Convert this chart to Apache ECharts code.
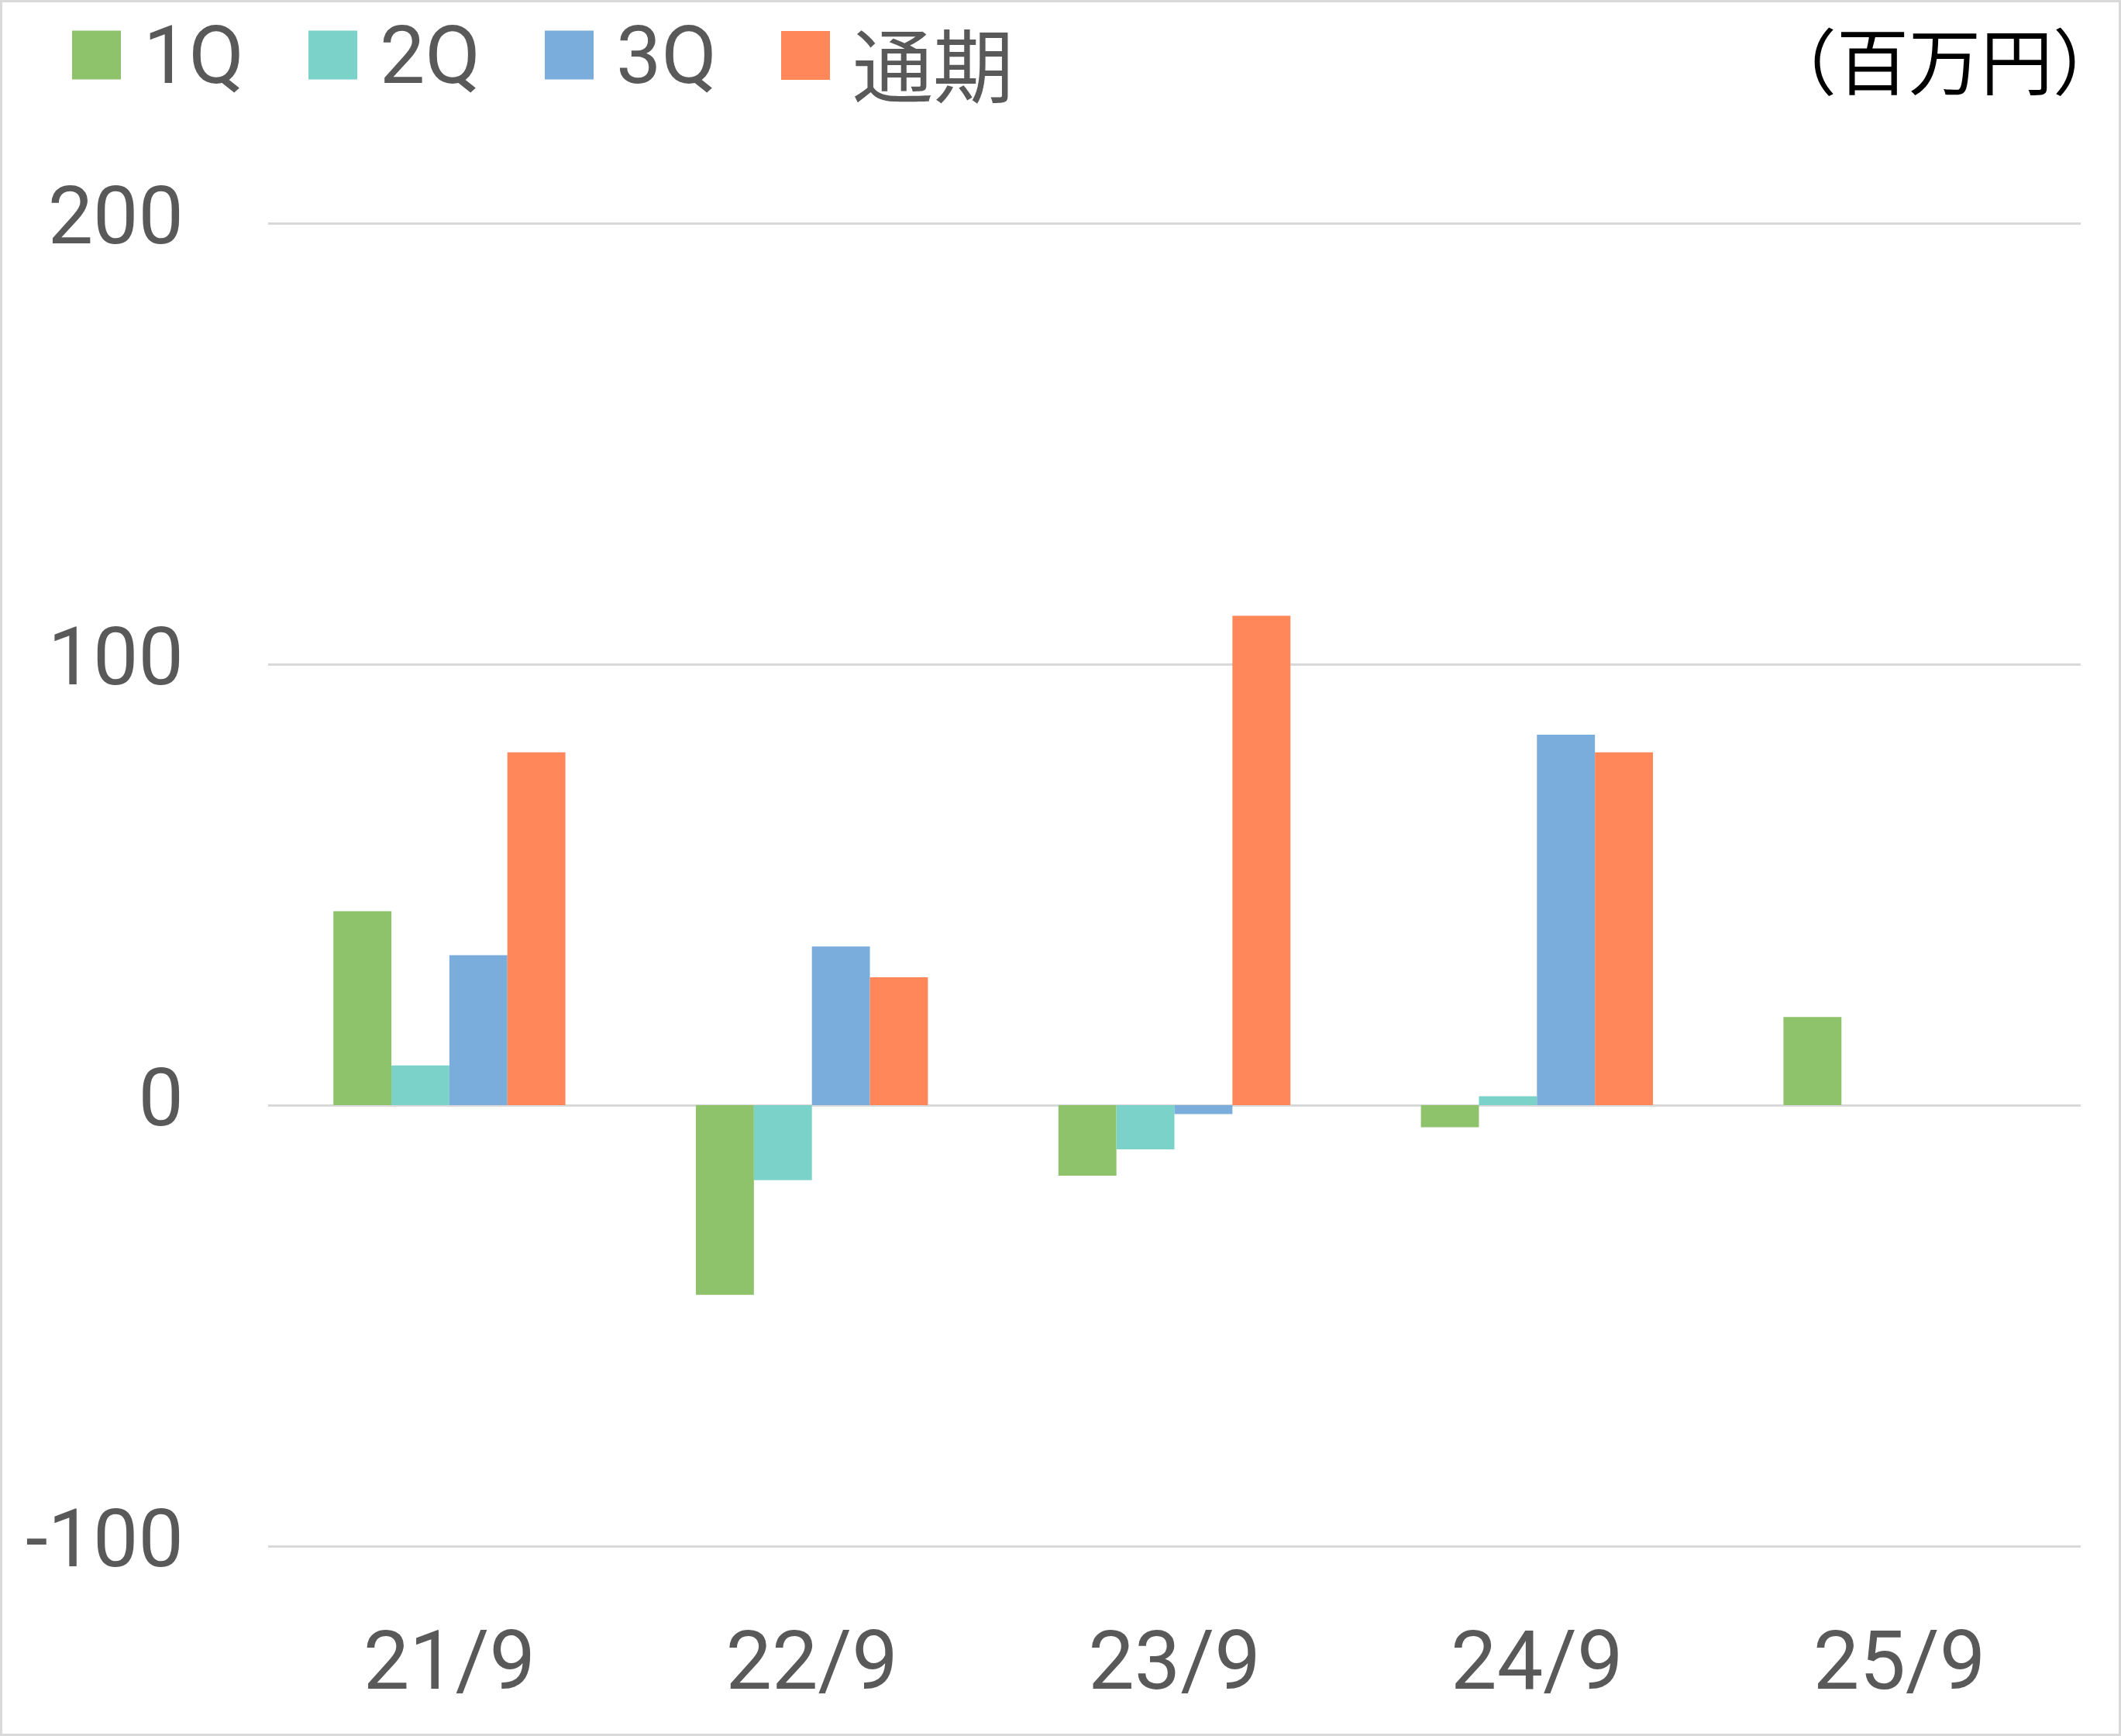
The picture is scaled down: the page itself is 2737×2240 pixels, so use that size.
<!DOCTYPE html>
<html lang="ja">
<head>
    <meta charset="UTF-8">
    <title>四半期別 利益推移</title>
    <script src="https://cdn.jsdelivr.net/npm/echarts@6/dist/echarts.min.js"></script>
    <style>
        html, body { margin: 0; padding: 0; background: #fff; }
        #chart { width: 2737px; height: 2240px; }
    </style>
</head>
<body>
    <div id="chart"></div>
    <script>
        // 決算期
        const periods = ['21/9', '22/9', '23/9', '24/9', '25/9']
        // 各四半期の値（百万円）
        const q1 = [44, -43, -16, -5, 20]
        const q2 = [9, -17, -10, 2, null]
        const q3 = [34, 36, -2, 84, null]
        const fullYear = [80, 29, 111, 80, null]

        const seriesNames = ['1Q', '2Q', '3Q', '通期']
        const seriesColors = ['#8fc36b', '#7bd2c8', '#7aacdc', '#ff8759']
        const unitLabel = '（百万円）'

        const fontLatin = "Roboto, 'Noto Sans CJK JP', sans-serif"
        const textGray = '#595959'

        const myChart = echarts.init(document.getElementById('chart'))

        const seriesData = [q1, q2, q3, fullYear]
        const series = seriesData.map((d, i) => ({
            name: seriesNames[i],
            type: 'bar',
            data: d,
            barGap: '0%',
            barCategoryGap: '36%',
            itemStyle: { color: seriesColors[i] }
        }))

        // 凡例は項目ごとに位置を固定する
        const legendLeft = [88, 393, 698, 1003]
        const legendTop = [24, 24, 24, 35]
        // 行の高さを広げて文字を下に寄せる（通期だけ大きめ）
        const legendLineH = [124, 124, 124, 160]
        const legends = seriesNames.map((name, i) => ({
            left: legendLeft[i],
            top: legendTop[i],
            itemWidth: 63,
            itemHeight: 63,
            icon: 'rect',
            data: [name],
            formatter: n => '{t|' + n + '}',
            textStyle: {
                padding: [0, 0, 0, 24],
                rich: {
                    t: {
                        fontSize: 104,
                        color: textGray,
                        fontFamily: fontLatin,
                        lineHeight: legendLineH[i],
                        verticalAlign: 'bottom'
                    }
                }
            }
        }))

        const option = {
            animation: false,
            backgroundColor: '#fff',
            textStyle: { fontFamily: fontLatin },
            legend: legends,
            grid: {
                left: 346,
                right: 52,
                top: 288,
                bottom: 245,
                containLabel: false
            },
            xAxis: {
                type: 'category',
                data: periods,
                axisLine: { show: false },
                axisTick: { show: false },
                splitLine: { show: false },
                axisLabel: {
                    fontSize: 106,
                    color: textGray,
                    margin: 104
                }
            },
            yAxis: {
                type: 'value',
                min: -100,
                max: 200,
                interval: 100,
                axisLine: { show: false },
                axisTick: { show: false },
                splitLine: { lineStyle: { color: '#d9d9d9', width: 3 } },
                axisLabel: {
                    fontSize: 104,
                    color: textGray,
                    margin: 109
                }
            },
            graphic: [
                {
                    type: 'rect',
                    shape: { x: 1.5, y: 1.5, width: 2734, height: 2237 },
                    style: { fill: 'none', stroke: '#d9d9d9', lineWidth: 3 },
                    silent: true
                },
                {
                    type: 'text',
                    x: 2742,
                    y: 80,
                    style: {
                        text: unitLabel,
                        fontSize: 93,
                        fill: '#000',
                        align: 'right',
                        verticalAlign: 'middle',
                        fontFamily: "'Noto Sans CJK JP', sans-serif"
                    }
                }
            ],
            series: series
        }
        myChart.setOption(option)
    </script>
</body>
</html>
